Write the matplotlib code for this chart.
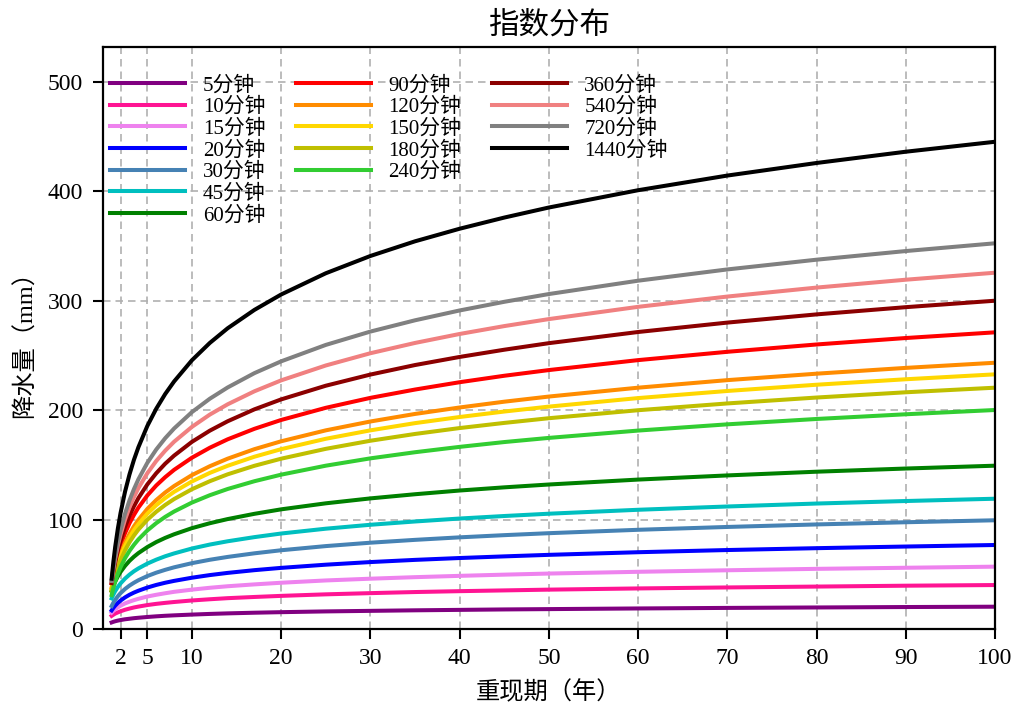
import matplotlib
matplotlib.use("Agg")
from matplotlib import pyplot as plt
from matplotlib.lines import Line2D

# fonts: serif digits, CJK fallback
plt.rcParams['font.family'] = ['Liberation Serif', 'Noto Sans CJK SC']
plt.rcParams['axes.unicode_minus'] = False

# return periods (years) at which the curves were read
return_periods = [1, 1.2, 1.4, 1.7, 2, 2.5, 3, 3.5, 4, 5, 6, 7, 8, 10, 12, 14, 17, 20,
                  25, 30, 35, 40, 45, 50, 60, 70, 80, 90, 100]

# rainfall depth (mm) per duration
rain_5 = [6.0, 6.6, 7.1, 7.7, 8.2, 8.9, 9.4, 9.9, 10.3, 11.0, 11.6, 12.1, 12.5, 13.2, 13.8,
          14.3, 14.9, 15.4, 16.1, 16.6, 17.1, 17.5, 17.9, 18.2, 18.8, 19.3, 19.7, 20.1, 20.4]
rain_10 = [12.0, 13.1, 14.1, 15.2, 16.2, 17.6, 18.7, 19.7, 20.5, 21.9, 23.0, 23.9, 24.7, 26.1, 27.2,
           28.2, 29.3, 30.3, 31.7, 32.8, 33.8, 34.6, 35.3, 36.0, 37.1, 38.0, 38.8, 39.6, 40.2]
rain_15 = [15.0, 16.7, 18.1, 19.8, 21.3, 23.4, 25.0, 26.4, 27.6, 29.7, 31.3, 32.7, 34.0, 36.0, 37.7,
           39.1, 40.8, 42.3, 44.4, 46.0, 47.4, 48.6, 49.7, 50.7, 52.3, 53.7, 55.0, 56.0, 57.0]
rain_20 = [17.0, 19.4, 21.4, 23.9, 26.0, 28.9, 31.3, 33.3, 35.0, 37.9, 40.3, 42.3, 44.0, 46.9, 49.3,
           51.3, 53.8, 55.9, 58.8, 61.2, 63.2, 64.9, 66.4, 67.8, 70.2, 72.2, 73.9, 75.4, 76.8]
rain_30 = [21.0, 24.1, 26.7, 30.0, 32.8, 36.6, 39.7, 42.3, 44.6, 48.4, 51.5, 54.1, 56.4, 60.2, 63.3,
           65.9, 69.2, 72.0, 75.8, 78.9, 81.5, 83.8, 85.8, 87.6, 90.7, 93.3, 95.6, 97.6, 99.4]
rain_45 = [28.0, 31.6, 34.7, 38.5, 41.7, 46.1, 49.7, 52.8, 55.4, 59.8, 63.4, 66.5, 69.1, 73.6, 77.2,
           80.2, 84.0, 87.3, 91.7, 95.3, 98.3, 101.0, 103.3, 105.4, 109.0, 112.0, 114.7, 117.0, 119.1]
rain_60 = [35.0, 39.5, 43.4, 48.2, 52.2, 57.7, 62.3, 66.1, 69.4, 74.9, 79.5, 83.3, 86.6, 92.2, 96.7,
           100.5, 105.3, 109.4, 114.9, 119.4, 123.2, 126.6, 129.5, 132.1, 136.6, 140.4, 143.8, 146.7, 149.3]
rain_90 = [42.0, 51.1, 58.8, 68.4, 76.5, 87.6, 96.7, 104.3, 111.0, 122.1, 131.2, 138.8, 145.5, 156.6, 165.7,
           173.4, 183.0, 191.1, 202.2, 211.3, 218.9, 225.6, 231.5, 236.7, 245.8, 253.4, 260.1, 266.0, 271.2]
rain_120 = [38.0, 46.1, 53.0, 61.7, 68.9, 78.9, 87.0, 93.9, 99.8, 109.8, 117.9, 124.8, 130.7, 140.7, 148.8,
            155.7, 164.4, 171.6, 181.6, 189.7, 196.6, 202.5, 207.8, 212.5, 220.6, 227.5, 233.4, 238.7, 243.4]
rain_150 = [37.0, 44.8, 51.3, 59.6, 66.5, 76.0, 83.7, 90.3, 95.9, 105.4, 113.2, 119.7, 125.4, 134.9, 142.7,
            149.2, 157.5, 164.4, 173.9, 181.6, 188.2, 193.8, 198.8, 203.3, 211.1, 217.6, 223.3, 228.3, 232.8]
rain_180 = [35.0, 42.3, 48.6, 56.4, 62.9, 71.9, 79.3, 85.5, 90.9, 99.9, 107.2, 113.4, 118.8, 127.8, 135.1,
            141.4, 149.2, 155.7, 164.7, 172.1, 178.3, 183.7, 188.4, 192.7, 200.0, 206.2, 211.6, 216.4, 220.6]
rain_240 = [31.0, 37.7, 43.4, 50.5, 56.5, 64.7, 71.4, 77.0, 81.9, 90.1, 96.8, 102.5, 107.4, 115.6, 122.3,
            128.0, 135.1, 141.1, 149.3, 156.0, 161.6, 166.5, 170.9, 174.7, 181.4, 187.1, 192.0, 196.3, 200.2]
rain_360 = [42.0, 52.2, 60.9, 71.7, 80.8, 93.4, 103.6, 112.2, 119.7, 132.2, 142.4, 151.1, 158.5, 171.1, 181.3,
            189.9, 200.8, 209.9, 222.4, 232.6, 241.3, 248.7, 255.3, 261.3, 271.5, 280.1, 287.6, 294.2, 300.1]
rain_540 = [44.0, 55.2, 64.6, 76.5, 86.4, 100.0, 111.2, 120.6, 128.8, 142.4, 153.6, 163.0, 171.2, 184.8, 196.0,
            205.4, 217.3, 227.3, 240.9, 252.1, 261.5, 269.7, 276.9, 283.3, 294.5, 303.9, 312.1, 319.3, 325.7]
rain_720 = [44.0, 56.2, 66.5, 79.6, 90.4, 105.4, 117.6, 127.9, 136.9, 151.9, 164.1, 174.4, 183.3, 198.3, 210.5,
            220.8, 233.9, 244.7, 259.7, 271.9, 282.2, 291.2, 299.1, 306.2, 318.4, 328.7, 337.6, 345.5, 352.6]
rain_1440 = [46.0, 61.8, 75.2, 92.0, 106.1, 125.5, 141.3, 154.7, 166.2, 185.6, 201.4, 214.8, 226.3, 245.7, 261.5,
             274.9, 291.7, 305.8, 325.2, 341.0, 354.4, 365.9, 376.1, 385.3, 401.1, 414.5, 426.0, 436.3, 445.4]

durations = ["5分钟", "10分钟", "15分钟", "20分钟", "30分钟", "45分钟", "60分钟",
             "90分钟", "120分钟", "150分钟", "180分钟", "240分钟",
             "360分钟", "540分钟", "720分钟", "1440分钟"]
series = [rain_5, rain_10, rain_15, rain_20, rain_30, rain_45, rain_60,
          rain_90, rain_120, rain_150, rain_180, rain_240,
          rain_360, rain_540, rain_720, rain_1440]
colors = ["purple", "deeppink", "violet", "blue", "steelblue", "c", "green",
          "red", "darkorange", "gold", "y", "limegreen",
          "darkred", "lightcoral", "grey", "black"]

fig = plt.figure(figsize=(10.19, 7.07), dpi=100)
ax = fig.add_axes([0.1008, 0.1103, 0.8757, 0.8232])

lines = []
for name, vals, c in zip(durations, series, colors):
    ln, = ax.plot(return_periods, vals, color=c, lw=2.9, label=name,
                  solid_joinstyle='round')
    lines.append(ln)

ax.set_xlim(0, 100)
ax.set_ylim(0, 532)
ax.set_xticks([2, 5, 10, 20, 30, 40, 50, 60, 70, 80, 90, 100])
ax.set_yticks([0, 100, 200, 300, 400, 500])
ax.grid(True, linestyle=(0, (4.5, 3)), color='#b0b0b0', linewidth=1.2)
ax.tick_params(labelsize=17, length=7, width=1.5, pad=7)
for s in ax.spines.values():
    s.set_linewidth(1.6)
ax.set_title("指数分布", fontsize=22, pad=10)
ax.set_xlabel("重现期（年）", fontsize=17.5, labelpad=8)
ax.set_ylabel("降水量（mm）", fontsize=17.5, labelpad=8)

# legend laid out 7 / 5 / 4 like the original, padded with blanks
blank = Line2D([], [], linestyle='none')
handles = lines[:7] + lines[7:12] + [blank] * 2 + lines[12:] + [blank] * 3
labels = durations[:7] + durations[7:12] + [""] * 2 + durations[12:] + [""] * 3
ax.legend(handles, labels, loc='upper left', bbox_to_anchor=(0.0, 0.963),
          ncol=3, frameon=False, fontsize=15, handlelength=3.6,
          labelspacing=0.1, columnspacing=1.45, handletextpad=0.85,
          borderaxespad=0.0, borderpad=0.35)

fig.savefig("out.png", dpi=100)
